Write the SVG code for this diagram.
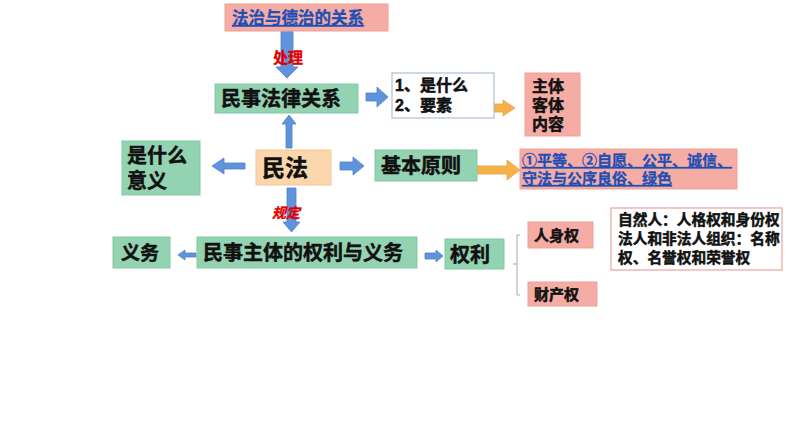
<svg xmlns="http://www.w3.org/2000/svg" width="794" height="447" viewBox="0 0 794 447">
<defs>
<style>
.t{font-family:"Liberation Sans","Noto Sans CJK SC",sans-serif;font-weight:bold;fill:#111;stroke:#111;stroke-width:0.5}
.u{font-family:"Liberation Sans","Noto Sans CJK SC",sans-serif;font-weight:bold;fill:#1f4fb4;stroke:#1f4fb4;stroke-width:0.3;text-decoration:underline}
.r{font-family:"Liberation Sans","Noto Sans CJK SC",sans-serif;font-weight:bold;fill:#e00000;stroke:#e00000;stroke-width:0.3}
.g{fill:#93d3b1;stroke:#84c9a4;stroke-width:1}
.p{fill:#f5aca4;stroke:#f0a097;stroke-width:1}
.o{fill:#fbd5ab;stroke:#f7c894;stroke-width:1}
.w{fill:#fff;stroke:#9fb4cc;stroke-width:1}
.wp{fill:#fff;stroke:#e8a49c;stroke-width:1.2}
.ba{fill:#5f93dc;stroke:#4f82cc;stroke-width:0.8}
.oa{fill:#f6b24a;stroke:#e9a13a;stroke-width:0.8}
.br{fill:none;stroke:#a8a8a8;stroke-width:1}
</style>
</defs>

<g id="connectors">
  <polygon class="ba" points="281,30 293,30 293,67 298,67 287,78 276,67 281,67"/>
  <polygon class="ba" points="289,115 296,124 292,124 292,148 286,148 286,124 282,124"/>
  <polygon class="ba" points="366,93 377,93 377,87 388,97 377,107 377,101 366,101"/>
  <polygon class="oa" points="465,104 503,104 503,100 515,108 503,116 503,112 465,112"/>
  <polygon class="ba" points="245,163 224,163 224,158 212,166 224,174 224,169 245,169"/>
  <polygon class="ba" points="340,162 353,162 353,157 364,166 353,175 353,170 340,170"/>
  <polygon class="oa" points="472,166 507,166 507,160 520,170 507,180 507,174 472,174"/>
  <polygon class="ba" points="287,188 296,188 296,222 300,222 291.5,232 283,222 287,222"/>
  <polygon class="ba" points="196,253 185,253 185,250 178,255 185,260 185,257 196,257"/>
  <polygon class="ba" points="425,253 436,253 436,250 443,256 436,262 436,259 425,259"/>
  <path class="br" d="M520,235 H517 V295 H520 M517,264 H513"/>
</g>

<g id="n-top">
  <rect class="p" x="225" y="4" width="163" height="27"/>
  <text class="u" x="232" y="24" font-size="16.5">法治与德治的关系</text>
</g>
<g id="l-chuli"><text class="r" x="273" y="63" font-size="15">处理</text></g>

<g id="n-mslgx">
  <rect class="g" x="215" y="84" width="143" height="29"/>
  <text class="t" x="221" y="106" font-size="20">民事法律关系</text>
</g>

<g id="n-what">
  <rect class="w" x="392" y="73" width="102" height="45"/>
  <text class="t" x="395" y="91" font-size="16">1、是什么</text>
  <text class="t" x="395" y="111" font-size="16">2、要素</text>
</g>

<g id="n-ztkt">
  <rect class="p" x="525" y="73" width="55" height="63"/>
  <text class="t" x="532" y="92" font-size="16">主体</text>
  <text class="t" x="532" y="111" font-size="16">客体</text>
  <text class="t" x="532" y="130" font-size="16">内容</text>
</g>

<g id="n-minfa">
  <rect class="o" x="256" y="150" width="75" height="35"/>
  <text class="t" x="262" y="176" font-size="23">民法</text>
</g>

<g id="n-meaning">
  <rect class="g" x="122" y="141" width="78" height="54"/>
  <text class="t" x="127" y="163" font-size="20">是什么</text>
  <text class="t" x="127" y="188" font-size="20">意义</text>
</g>

<g id="n-principle">
  <rect class="g" x="375" y="150" width="102" height="31"/>
  <text class="t" x="381" y="173" font-size="20">基本原则</text>
</g>

<g id="n-principles">
  <rect class="p" x="520" y="149" width="217" height="40"/>
  <text class="u" x="522" y="166" font-size="15">①平等、②自愿、公平、诚信、</text>
  <text class="u" x="522" y="184" font-size="15">守法与公序良俗、绿色</text>
</g>
<g id="l-guiding"><text class="r" x="272" y="218" font-size="14" font-style="italic">规定</text></g>

<g id="n-yiwu">
  <rect class="g" x="113" y="237" width="57" height="31"/>
  <text class="t" x="121" y="260" font-size="19">义务</text>
</g>

<g id="n-subject">
  <rect class="g" x="197" y="237" width="220" height="31"/>
  <text class="t" x="203" y="260" font-size="20">民事主体的权利与义务</text>
</g>

<g id="n-quanli">
  <rect class="g" x="445" y="239" width="59" height="30"/>
  <text class="t" x="450" y="262" font-size="20">权利</text>
</g>

<g id="n-renshen">
  <rect class="p" x="528" y="222" width="65" height="26"/>
  <text class="t" x="534" y="241" font-size="15">人身权</text>
</g>

<g id="n-caichan">
  <rect class="p" x="528" y="282" width="69" height="24"/>
  <text class="t" x="534" y="300" font-size="15">财产权</text>
</g>

<g id="n-detail">
  <rect class="wp" x="611" y="208" width="171" height="62"/>
  <text class="t" x="618" y="225" font-size="14.7">自然人：人格权和身份权</text>
  <text class="t" x="618" y="244" font-size="14.7">法人和非法人组织：名称</text>
  <text class="t" x="618" y="263" font-size="14.7">权、名誉权和荣誉权</text>
</g>
</svg>
